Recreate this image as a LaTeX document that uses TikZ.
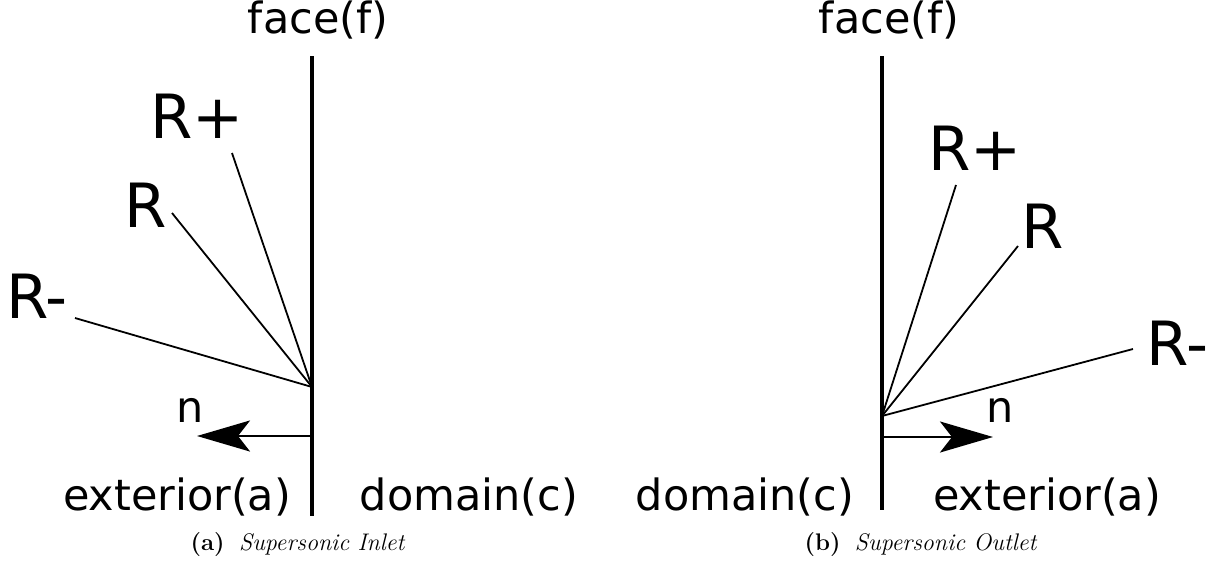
\documentclass[tikz,border=0pt]{standalone}
\usepackage{fontspec}
\newfontfamily\lab{DejaVu Sans}
\usetikzlibrary{arrows.meta}
\begin{document}
\begin{tikzpicture}[x=1pt,y=-1pt,
  faceline/.style={line width=3.5pt},
  waveline/.style={line width=1.8pt},
  normalarrow/.style={line width=2.5pt,-{Stealth[length=53pt,width=31pt,inset=12pt]}},
  smalllabel/.style={font=\lab\fontsize{43}{48}\selectfont,inner sep=0pt,anchor=base},
  biglabel/.style={font=\lab\fontsize{61}{70}\selectfont,inner sep=0pt,anchor=base},
  captext/.style={font=\fontsize{24}{28}\selectfont,inner sep=0pt,anchor=base}]
\useasboundingbox (0,0) rectangle (1215,562);
% ---------- (a) inlet ----------
\coordinate (ftopA) at (312,56);
\coordinate (fbotA) at (312,516);
\coordinate (oA) at (312,387);
\coordinate (rpA) at (232,153);
\coordinate (rA) at (172,213);
\coordinate (rmA) at (75,318);
\coordinate (nsA) at (312,436);
\coordinate (ntA) at (197,436);
\draw[faceline] (ftopA) -- (fbotA);
\draw[waveline] (oA) -- (rpA);
\draw[waveline] (oA) -- (rA);
\draw[waveline] (oA) -- (rmA);
\draw[normalarrow] (nsA) -- (ntA);
\node[smalllabel] (faceA) at (318,33) {face(f)};
\node[biglabel] (RpA) at (197,138) {R+};
\node[biglabel] (RA) at (146,227) {R};
\node[biglabel] (RmA) at (37,318) {R-};
\node[smalllabel] (nA) at (190,422) {n};
\node[smalllabel] (extA) at (177,510) {exterior(a)};
\node[smalllabel] (domA) at (469,510) {domain(c)};
\node[captext] (capA) at (298,550) {\textbf{(a)}\hspace{0.6em}\textit{Supersonic Inlet}};
% ---------- (b) outlet ----------
\coordinate (ftopB) at (882,56);
\coordinate (fbotB) at (882,510);
\coordinate (oB) at (882,416);
\coordinate (rpB) at (956,185);
\coordinate (rB) at (1018,246);
\coordinate (rmB) at (1133,349);
\coordinate (nsB) at (882,437);
\coordinate (ntB) at (993,437);
\draw[faceline] (ftopB) -- (fbotB);
\draw[waveline] (oB) -- (rpB);
\draw[waveline] (oB) -- (rB);
\draw[waveline] (oB) -- (rmB);
\draw[normalarrow] (nsB) -- (ntB);
\node[smalllabel] (faceB) at (889,33) {face(f)};
\node[biglabel] (RpB) at (975,170) {R+};
\node[biglabel] (RB) at (1043,248) {R};
\node[biglabel] (RmB) at (1177,365) {R-};
\node[smalllabel] (nB) at (1000,422) {n};
\node[smalllabel] (domB) at (745,510) {domain(c)};
\node[smalllabel] (extB) at (1047,510) {exterior(a)};
\node[captext] (capB) at (921,550) {\textbf{(b)}\hspace{0.6em}\textit{Supersonic Outlet}};
\end{tikzpicture}
\end{document}
